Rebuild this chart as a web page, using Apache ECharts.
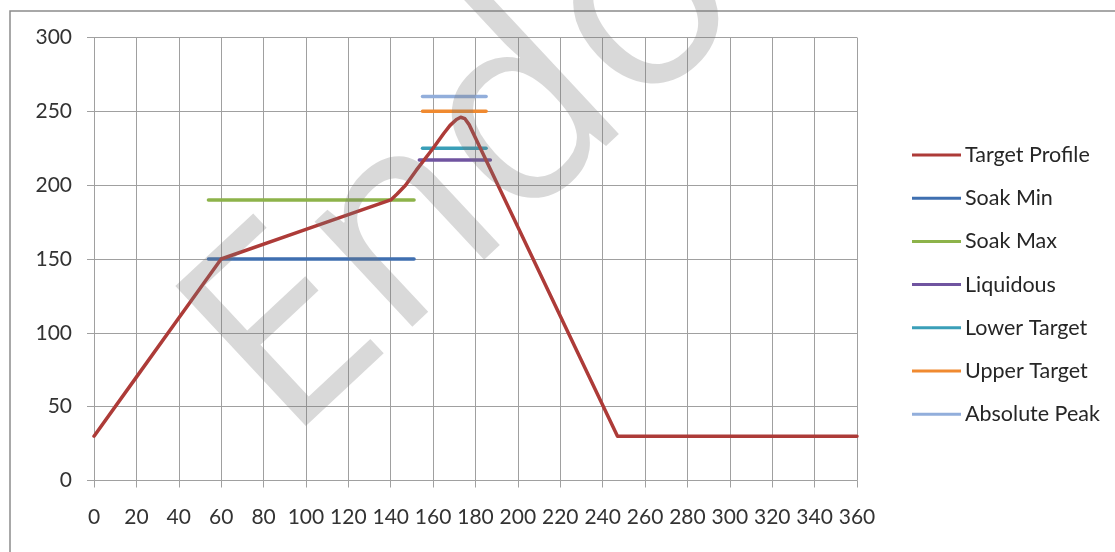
<!DOCTYPE html>
<html>
<head>
<meta charset="utf-8">
<script src="https://cdn.jsdelivr.net/npm/echarts@6/dist/echarts.min.js"></script>
<style>
  html, body { margin: 0; padding: 0; background: #fff; }
  #chart { width: 1115px; height: 552px; }
</style>
</head>
<body>
<div id="chart"></div>
<script>
const xTicks = [0, 20, 40, 60, 80, 100, 120, 140, 160, 180, 200, 220, 240, 260, 280, 300, 320, 340, 360];
const yTicks = [0, 50, 100, 150, 200, 250, 300];

const targetProfile = [
  [0, 30], [20, 70], [40, 110], [60, 150], [100, 170], [140, 190], [143, 194],
  [147, 200], [152, 210], [160, 225], [165, 235], [168, 240.5], [171, 244.5], [173, 246],
  [175, 245], [177, 241], [180, 232], [247, 30], [360, 30]
];
const soakMin = [[54, 150], [151, 150]];
const soakMax = [[54, 190], [151, 190]];
const liquidous = [[153.5, 217], [187, 217]];
const lowerTarget = [[155, 225], [185, 225]];
const upperTarget = [[155, 250], [185, 250]];
const absolutePeak = [[155, 260], [185, 260]];

const seriesNames = ["Target Profile", "Soak Min", "Soak Max", "Liquidous", "Lower Target", "Upper Target", "Absolute Peak"];
const seriesData = [targetProfile, soakMin, soakMax, liquidous, lowerTarget, upperTarget, absolutePeak];
const seriesColors = ["#ad3b38", "#3f6fb0", "#8db34a", "#7054a0", "#3a9fb8", "#f08a30", "#92aedb"];

const chart = echarts.init(document.getElementById("chart"));
const gridColor = "#a0a0a0";
const font = "Lato, 'Open Sans', sans-serif";

chart.setOption({
  backgroundColor: "#fff",
  animation: false,
  textStyle: { fontFamily: font },
  grid: { left: 94, right: 258, top: 37.5, bottom: 71.5 },
  legend: {
    orient: "vertical",
    left: 912,
    top: 144,
    padding: 0,
    itemWidth: 49,
    itemHeight: 14,
    itemGap: 21.2,
    textStyle: { fontFamily: font, fontSize: 21.5, lineHeight: 22, color: "#262626", padding: [0, 0, 0, -1] },
    data: seriesNames.map((n) => ({ name: n, icon: "path://M0,0L49,0L49,3L0,3Z" }))
  },
  xAxis: {
    type: "value",
    min: 0,
    max: 360,
    interval: 20,
    axisLine: { show: true, onZero: false, lineStyle: { color: gridColor, width: 1 } },
    axisTick: { show: true, length: 7, lineStyle: { color: gridColor } },
    axisLabel: { color: "#333", fontSize: 21, margin: 26, formatter: (v) => (xTicks.includes(v) ? String(v) : "") },
    splitLine: { show: true, lineStyle: { color: gridColor, width: 1 } }
  },
  yAxis: {
    type: "value",
    min: 0,
    max: 300,
    interval: 50,
    axisLine: { show: false },
    axisTick: { show: true, length: 7, lineStyle: { color: gridColor } },
    axisLabel: { color: "#333", fontSize: 21, margin: 22, formatter: (v) => (yTicks.includes(v) ? String(v) : "") },
    splitLine: { show: true, lineStyle: { color: gridColor, width: 1 } }
  },
  series: seriesNames.map((name, i) => ({
    name,
    type: "line",
    data: seriesData[i],
    showSymbol: false,
    symbol: "none",
    color: seriesColors[i],
    lineStyle: { color: seriesColors[i], width: 3.5, cap: "round", join: "round" },
    z: i === 0 ? 3 : 2
  })),
  graphic: [
    {
      type: "rect",
      shape: { x: 10, y: 11, width: 1200, height: 700 },
      style: { fill: "none", stroke: "#8c8c8c", lineWidth: 1.5 },
      silent: true,
      z: -1
    },
    {
      type: "text",
      x: 326,
      y: 486,
      rotation: 43 * Math.PI / 180,
      style: {
        text: "Endo",
        font: "normal 268px 'Open Sans', sans-serif",
        fill: "rgba(120,120,120,0.28)",
        textAlign: "left",
        textVerticalAlign: "bottom"
      },
      silent: true,
      z: 100
    }
  ]
});
</script>
</body>
</html>
